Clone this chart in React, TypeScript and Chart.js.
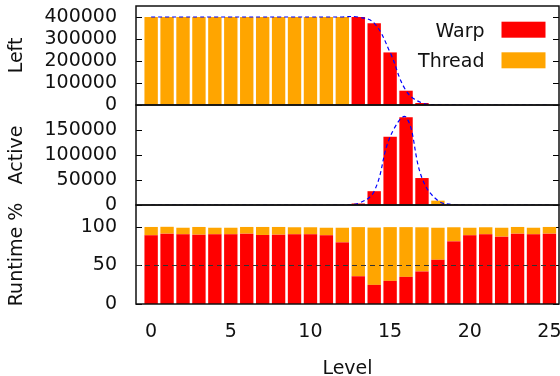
import React, { useEffect, useRef } from 'react';
import { Chart, registerables } from 'chart.js';

Chart.register(...registerables);

const levels = [0, 1, 2, 3, 4, 5, 6, 7, 8, 9, 10, 11, 12, 13, 14, 15, 16, 17, 18, 19, 20, 21, 22, 23, 24, 25];

const leftWarp = [null, null, null, null, null, null, null, null, null, null, null, null, null, 400000, 372000, 239000, 65000, 9000, null, null, null, null, null, null, null, null];
const leftThread = [400000, 400000, 400000, 400000, 400000, 400000, 400000, 400000, 400000, 400000, 400000, 400000, 400000, null, null, null, null, null, 1500, 300, null, null, null, null, null, null];
const leftTotal = [400000, 400000, 400000, 400000, 400000, 400000, 400000, 400000, 400000, 400000, 400000, 400000, 400000, 400000, 372000, 239000, 65000, 9000, 1500, 300, 0, 0, 0, 0, 0, 0];

const activeWarp = [null, null, null, null, null, null, null, null, null, null, null, null, null, 3000, 27600, 136400, 175500, 53900, null, null, null, null, null, null, null, null];
const activeThread = [null, null, null, null, null, null, null, null, null, null, null, null, null, null, null, null, null, null, 8700, 800, null, null, null, null, null, null];
const activeTotal = [0, 0, 0, 0, 0, 0, 0, 0, 0, 0, 0, 0, 0, 3000, 27600, 136400, 175500, 53900, 8700, 800, 0, 0, 0, 0, 0, 0];

const runtimeWarp = [89.1, 91.3, 90.4, 90.0, 90.4, 90.4, 91.3, 89.6, 90.0, 90.4, 90.4, 89.1, 80.0, 36.0, 24.8, 30.0, 35.2, 42.2, 57.4, 81.3, 89.1, 90.4, 87.4, 91.3, 90.4, 91.3];
const runtimeThread = [10.9, 8.9, 8.6, 10.0, 8.6, 8.6, 8.7, 10.4, 10.0, 9.2, 9.2, 9.9, 19.0, 63.8, 74.4, 69.8, 64.6, 57.4, 41.6, 18.3, 9.9, 9.2, 11.6, 8.7, 8.6, 8.7];

const leftTicks = [0, 100000, 200000, 300000, 400000];
const activeTicks = [0, 50000, 100000, 150000];
const runtimeTicks = [0, 50, 100];
const levelTicks = [0, 5, 10, 15, 20, 25];

const RED = '#ff0000';
const ORANGE = '#ffa500';
const BLUE = '#0000ff';
const FONT = 'DejaVu Sans';

const decoPlugin = {
  id: 'deco',
  beforeDatasetsDraw(chart: any) {
    const { ctx, chartArea } = chart;
    const y = chart.scales.y;
    ctx.save();
    ctx.strokeStyle = '#000';
    ctx.lineWidth = 1;
    for (const t of y.ticks) {
      const py = Math.round(y.getPixelForValue(t.value)) + 0.5;
      ctx.beginPath();
      ctx.moveTo(chartArea.left, py);
      ctx.lineTo(chartArea.left + 6, py);
      ctx.moveTo(chartArea.right - 6, py);
      ctx.lineTo(chartArea.right, py);
      ctx.stroke();
    }
    ctx.restore();
  },
  afterDatasetsDraw(chart: any, _args: any, opts: any) {
    const { ctx, chartArea } = chart;
    ctx.save();
    if (opts.refLine !== undefined && opts.refLine !== null) {
      const py = Math.round(chart.scales.y.getPixelForValue(opts.refLine)) + 0.5;
      ctx.strokeStyle = '#333';
      ctx.lineWidth = 1;
      ctx.setLineDash([5, 4]);
      ctx.beginPath();
      ctx.moveTo(chartArea.left, py);
      ctx.lineTo(chartArea.right, py);
      ctx.stroke();
      ctx.setLineDash([]);
    }
    ctx.strokeStyle = '#111';
    ctx.lineWidth = 1.5;
    ctx.strokeRect(chartArea.left, chartArea.top, chartArea.right - chartArea.left, chartArea.bottom - chartArea.top);
    if (opts.legend) {
      const items = opts.legend as { label: string; color: string }[];
      ctx.font = `19px "${FONT}"`;
      ctx.textAlign = 'right';
      ctx.textBaseline = 'alphabetic';
      items.forEach((it, i) => {
        const boxRight = chartArea.right - 13.5;
        const boxLeft = boxRight - 44;
        const boxTop = chartArea.top + 15.7 + i * 30.6;
        ctx.fillStyle = it.color;
        ctx.fillRect(boxLeft, boxTop, 44, 16);
        ctx.fillStyle = '#111';
        ctx.fillText(it.label, boxLeft - 17, boxTop + 15);
      });
    }
    ctx.restore();
  },
};

type PanelSpec = {
  top: number;
  bottom: number;
  title: string;
  yMax: number;
  yTicks: number[];
  stacked: boolean;
  showX: boolean;
  datasets: any[];
  refLine?: number;
  legend?: { label: string; color: string }[];
};

function barDs(label: string, data: (number | null)[], color: string) {
  return {
    type: 'bar',
    label,
    data,
    backgroundColor: color,
    borderWidth: 0,
    barPercentage: 0.84,
    categoryPercentage: 1,
    grouped: false,
    order: 1,
  };
}

function lineDs(label: string, data: number[]) {
  return {
    type: 'line',
    label,
    data,
    borderColor: BLUE,
    borderWidth: 1.2,
    borderDash: [4, 3],
    pointRadius: 0,
    tension: 0.4,
    fill: false,
    order: 0,
  };
}

function makeConfig(p: PanelSpec): any {
  return {
    type: 'bar',
    data: { labels: levels, datasets: p.datasets },
    plugins: [decoPlugin],
    options: {
      animation: false,
      responsive: false,
      devicePixelRatio: 1,
      events: [],
      layout: { padding: { top: p.top, bottom: p.bottom, left: 0, right: 1 } },
      plugins: {
        legend: { display: false },
        tooltip: { enabled: false },
        deco: { refLine: p.refLine, legend: p.legend },
      },
      scales: {
        x: {
          type: 'linear',
          display: p.showX,
          min: -0.95,
          max: 25.6,
          offset: false,
          stacked: p.stacked,
          grid: { display: false, drawTicks: false },
          border: { display: false },
          afterBuildTicks: (s: any) => {
            s.ticks = levelTicks.map((v) => ({ value: v }));
          },
          afterFit: (s: any) => {
            s.height = p.showX ? 72 : 0;
            s.paddingLeft = 0;
            s.paddingRight = 0;
          },
          ticks: {
            font: { family: FONT, size: 19 },
            color: '#111',
            padding: 17,
            maxRotation: 0,
            autoSkip: false,
          },
          title: {
            display: true,
            text: 'Level',
            font: { family: FONT, size: 19, lineHeight: 0.75 },
            color: '#111',
            padding: { top: 0, bottom: 0 },
          },
        },
        y: {
          type: 'linear',
          position: 'left',
          min: 0,
          max: p.yMax,
          stacked: p.stacked,
          grid: { display: false, drawTicks: false },
          border: { display: false },
          afterBuildTicks: (s: any) => {
            s.ticks = p.yTicks.map((v) => ({ value: v }));
          },
          afterFit: (s: any) => {
            s.width = 136;
            s.paddingTop = 0;
            s.paddingBottom = 0;
          },
          ticks: {
            font: { family: FONT, size: 19 },
            color: '#111',
            padding: 19,
            autoSkip: false,
            callback: (v: any) => String(v),
          },
          title: {
            display: true,
            text: p.title,
            font: { family: FONT, size: 19, lineHeight: 1 },
            color: '#111',
            padding: { top: 7.5, bottom: 0 },
          },
        },
      },
    },
  };
}

const panels: PanelSpec[] = [
  {
    top: 6,
    bottom: 376 - 105,
    title: 'Left',
    yMax: 450000,
    yTicks: leftTicks,
    stacked: false,
    showX: false,
    datasets: [lineDs('Left total', leftTotal), barDs('Warp', leftWarp, RED), barDs('Thread', leftThread, ORANGE)],
    legend: [
      { label: 'Warp', color: RED },
      { label: 'Thread', color: ORANGE },
    ],
  },
  {
    top: 105,
    bottom: 376 - 205,
    title: 'Active',
    yMax: 200000,
    yTicks: activeTicks,
    stacked: false,
    showX: false,
    datasets: [lineDs('Active total', activeTotal), barDs('Warp', activeWarp, RED), barDs('Thread', activeThread, ORANGE)],
  },
  {
    top: 205,
    bottom: 0,
    title: 'Runtime %',
    yMax: 128.5,
    yTicks: runtimeTicks,
    stacked: true,
    showX: true,
    datasets: [barDs('Warp', runtimeWarp, RED), barDs('Thread', runtimeThread, ORANGE)],
    refLine: 50,
  },
];

function Panel({ spec }: { spec: PanelSpec }) {
  const ref = useRef<HTMLCanvasElement>(null);
  useEffect(() => {
    if (!ref.current) return;
    const chart = new Chart(ref.current, makeConfig(spec));
    return () => chart.destroy();
  }, [spec]);
  return <canvas ref={ref} width={560} height={376} style={{ position: 'absolute', left: 0, top: 0 }} />;
}

export default function App() {
  return (
    <div style={{ position: 'fixed', left: 0, top: 0, width: 560, height: 376, background: '#fff', overflow: 'hidden' }}>
      {panels.map((p, i) => (
        <Panel key={i} spec={p} />
      ))}
    </div>
  );
}
